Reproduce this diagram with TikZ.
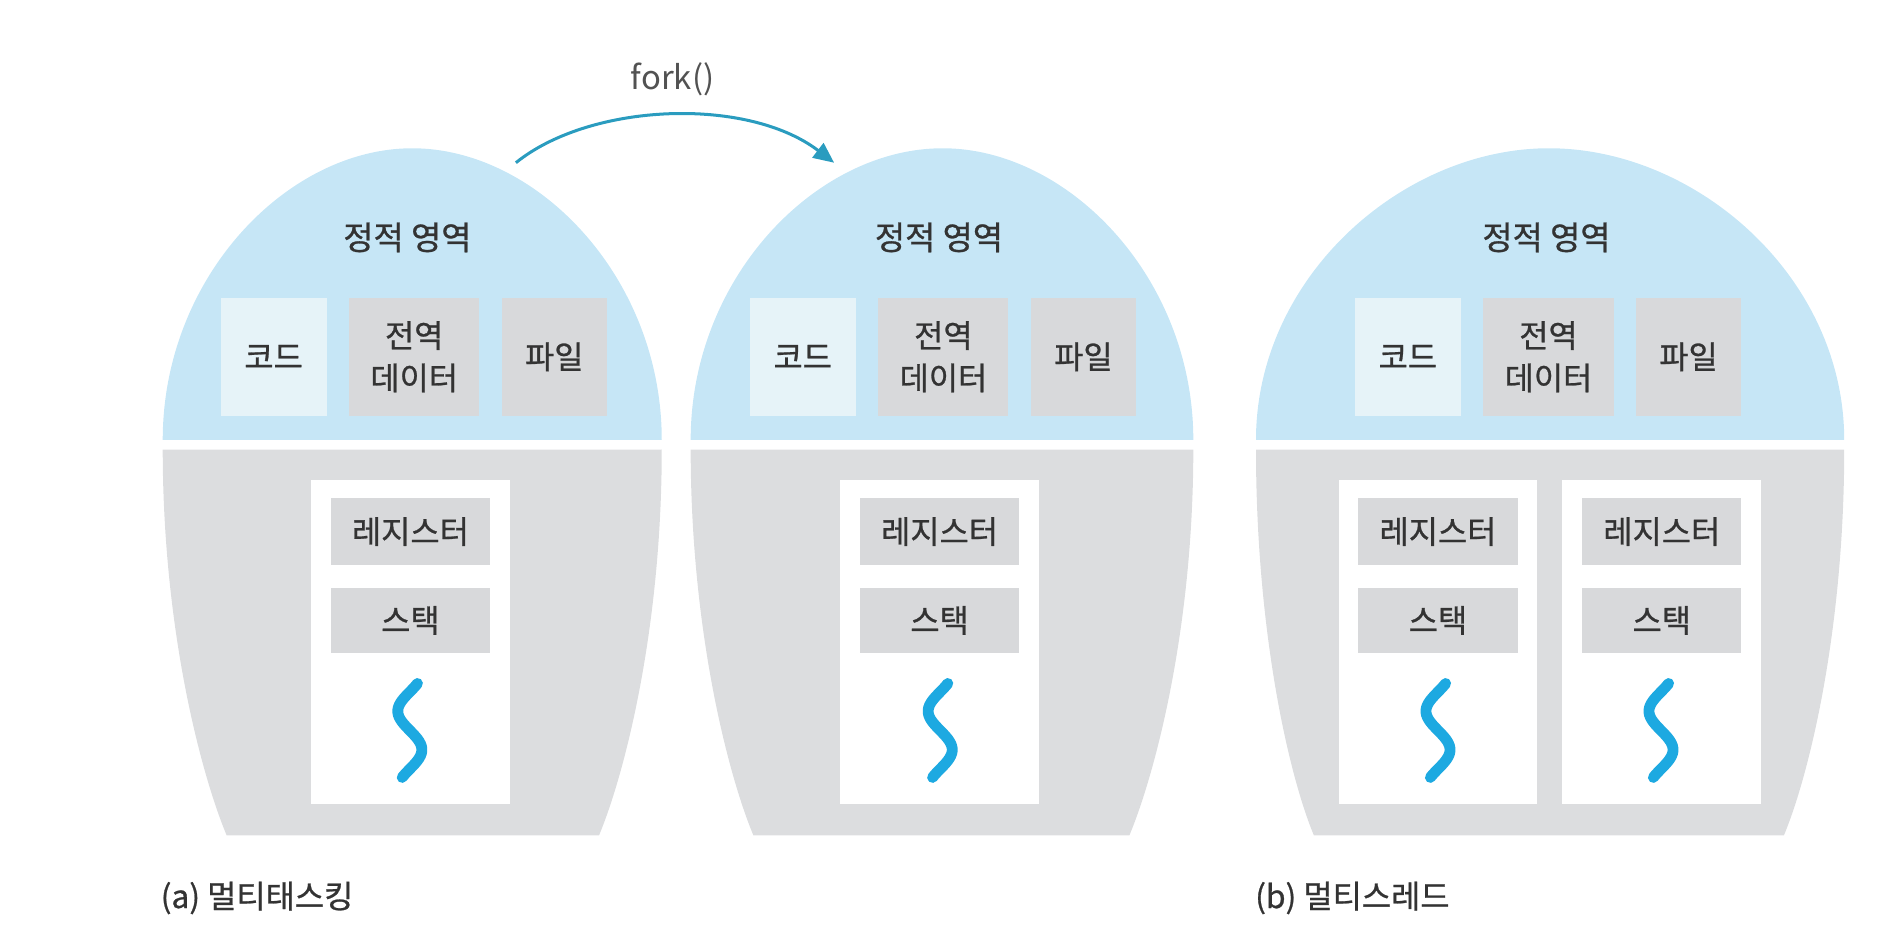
\documentclass[tikz,border=0pt]{standalone}
\usepackage{fontspec}
\setmainfont{Noto Sans CJK KR}
\newfontfamily\medfont{Noto Sans CJK KR}[FakeBold=0.8]
\usepackage{tikz}
\usetikzlibrary{arrows.meta, positioning}
\usepackage{xcolor}
\definecolor{domeblue}{HTML}{C6E6F6}
\definecolor{procgray}{HTML}{DCDDDF}
\definecolor{boxgray}{HTML}{D8D9DB}
\definecolor{codefill}{HTML}{E6F3F8}
\definecolor{threadblue}{HTML}{1DA9E1}
\definecolor{forkteal}{HTML}{2A9CBF}
\definecolor{textgray}{HTML}{333333}
\tikzstyle{dome} = [fill=domeblue]
\tikzstyle{lower} = [fill=procgray]
\tikzstyle{seg} = [
    rectangle, minimum height=1.96cm, inner sep=0pt, align=center,
    text centered, fill=boxgray, text=textgray, font=\medfont\fontsize{15}{20}\selectfont
]
\tikzstyle{codeseg} = [seg, fill=codefill, minimum width=1.76cm]
\tikzstyle{dataseg} = [seg, minimum width=2.16cm]
\tikzstyle{fileseg} = [seg, minimum width=1.74cm]
\tikzstyle{tcb} = [rectangle, fill=white, minimum width=3.3cm, minimum height=5.38cm, inner sep=0pt]
\tikzstyle{regbox} = [
    rectangle, minimum width=2.64cm, minimum height=1.12cm, inner sep=0pt,
    text centered, fill=boxgray, text=textgray, font=\medfont\fontsize{15}{20}\selectfont
]
\tikzstyle{title} = [inner sep=0pt, text=textgray, font=\medfont\fontsize{15.5}{20}\selectfont]
\tikzstyle{caption} = [inner sep=0pt, anchor=west, text=textgray, font=\medfont\fontsize{15}{20}\selectfont]
\tikzstyle{thread} = [draw=threadblue, line width=0.18cm, line cap=round]
\tikzstyle{forkarrow} = [-{Triangle[length=0.34cm, width=0.3cm]}, draw=forkteal, fill=none, line width=0.05cm]

\begin{document}
\begin{tikzpicture}[x=0.02cm, y=-0.02cm]
    \useasboundingbox (0,0) rectangle (1568,777);
    % Process outlines
    \foreach \l/\r/\c/\bl/\br in {135/549/342/188/497, 573/990/782/625/937, 1042/1530/1285/1090/1480} {
        \fill[dome] (\l,365) .. controls (\l,230) and ({\c-0.5*(\c-\l)},123) .. (\c,123)
            .. controls ({\c+0.5*(\r-\c)},123) and (\r,230) .. (\r,365) -- cycle;
        \fill[lower] (\l,373) -- (\r,373) .. controls (\r,520) and (\br+22,640) .. (\br,693)
            -- (\bl,693) .. controls (\bl-22,640) and (\l,520) .. (\l,373) -- cycle;
    }
    % (a) process
    \node[title] (staticA) at (338,197) {정적 영역};
    \node[codeseg] (codeA) at (227,296) {코드};
    \node[dataseg, right=0.36cm of codeA] (dataA) {전역\\데이터};
    \node[fileseg, right=0.36cm of dataA] (fileA) {파일};
    \node[tcb] (tcbA) at (340.5,532.5) {};
    \node[regbox, below=0.3cm of tcbA.north] (regA) {레지스터};
    \node[regbox, below=0.36cm of regA, minimum height=1.08cm] (stackA) {스택};
    % forked process
    \node[title] (staticC) at (779,197) {정적 영역};
    \node[codeseg] (codeC) at (666,296) {코드};
    \node[dataseg, right=0.36cm of codeC] (dataC) {전역\\데이터};
    \node[fileseg, right=0.36cm of dataC] (fileC) {파일};
    \node[tcb] (tcbC) at (779.5,532.5) {};
    \node[regbox, below=0.3cm of tcbC.north] (regC) {레지스터};
    \node[regbox, below=0.36cm of regC, minimum height=1.08cm] (stackC) {스택};
    % (b) process
    \node[title] (staticB) at (1283,197) {정적 영역};
    \node[codeseg] (codeB) at (1168,296) {코드};
    \node[dataseg, right=0.36cm of codeB] (dataB) {전역\\데이터};
    \node[fileseg, right=0.36cm of dataB] (fileB) {파일};
    \node[tcb] (tcbB1) at (1193,532.5) {};
    \node[tcb, right=0.4cm of tcbB1] (tcbB2) {};
    \node[regbox, below=0.3cm of tcbB1.north] (regB1) {레지스터};
    \node[regbox, below=0.36cm of regB1, minimum height=1.08cm] (stackB1) {스택};
    \node[regbox, below=0.3cm of tcbB2.north] (regB2) {레지스터};
    \node[regbox, below=0.36cm of regB2, minimum height=1.08cm] (stackB2) {스택};
    % threads
    \foreach \x in {340,780,1193,1378}
        \draw[thread] plot[variable=\t, domain=567:645, samples=40, smooth] ({\x+10*sin(360*(\t-606)/64)}, \t);
    % fork
    \coordinate (forkstart) at (428,135);
    \coordinate (forkend) at (692,135);
    \draw[forkarrow] (forkstart) .. controls (490,85) and (620,80) .. (forkend);
    \node[inner sep=0pt, text=textgray!85, font=\fontsize{15.5}{20}\selectfont] (forklabel) at (558,66) {fork()};
    % captions
    \node[caption] (capA) at (133,745) {(a) 멀티태스킹};
    \node[caption] (capB) at (1041,745) {(b) 멀티스레드};
\end{tikzpicture}
\end{document}
